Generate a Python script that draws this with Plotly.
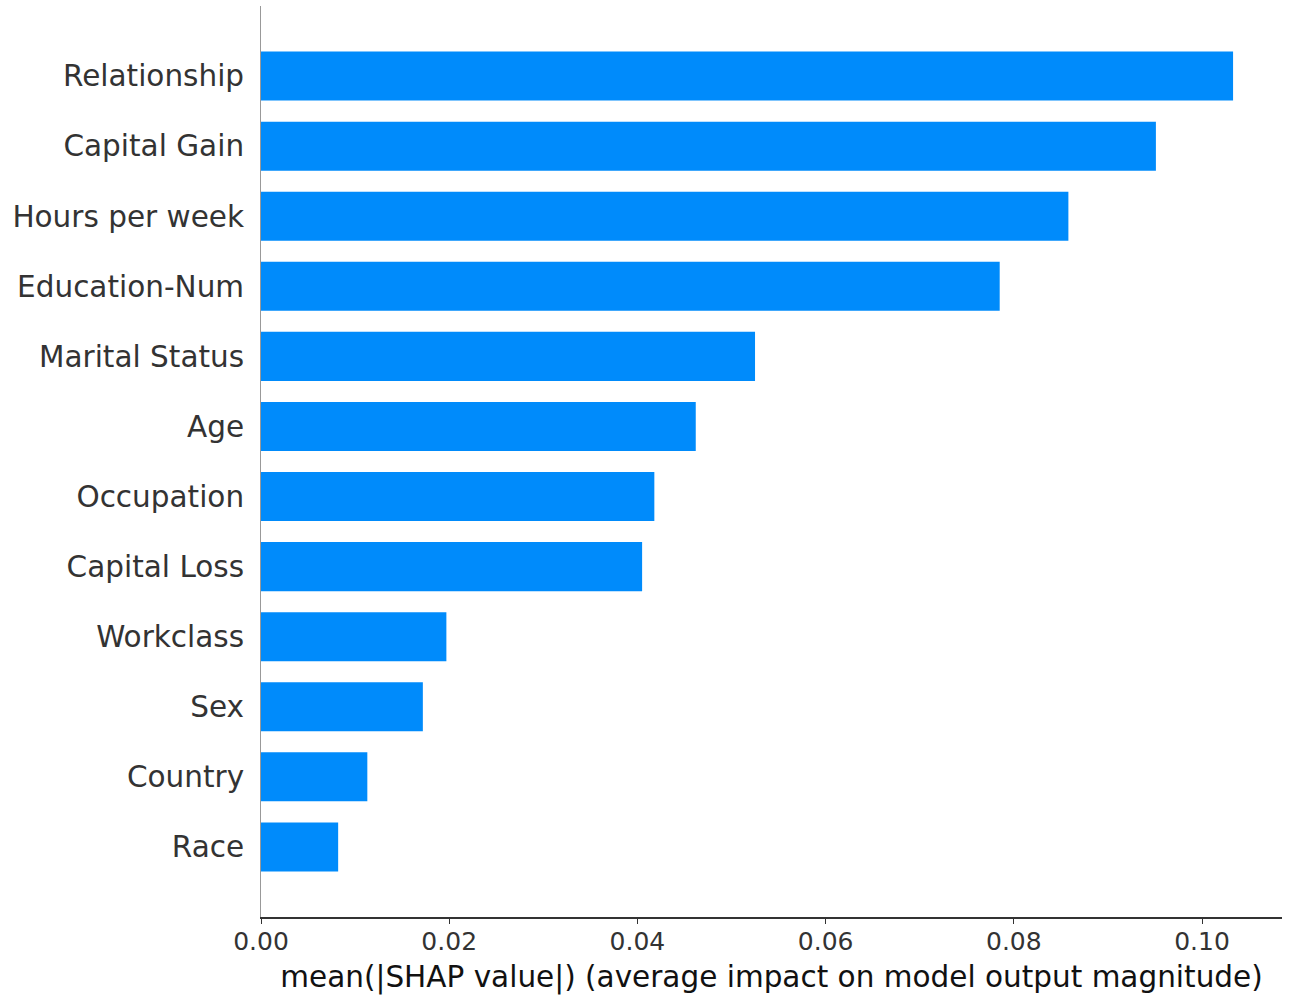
import plotly.graph_objects as go

# Feature importance: mean absolute SHAP value per feature (bottom to top)
features = ["Race", "Country", "Sex", "Workclass", "Capital Loss", "Occupation",
            "Age", "Marital Status", "Education-Num", "Hours per week",
            "Capital Gain", "Relationship"]
mean_abs_shap = [0.0082, 0.0113, 0.0172, 0.0197, 0.0405, 0.0418,
                 0.0462, 0.0525, 0.0785, 0.0858, 0.0951, 0.1033]
x_ticks = [0.00, 0.02, 0.04, 0.06, 0.08, 0.10]
x_tick_labels = ["0.00", "0.02", "0.04", "0.06", "0.08", "0.10"]
x_title = "mean(|SHAP value|) (average impact on model output magnitude)"

positions = list(range(len(features)))

fig = go.Figure(
    go.Bar(
        x=mean_abs_shap,
        y=positions,
        orientation="h",
        width=0.7,
        marker=dict(color="#008bfb", line=dict(width=0)),
        hoverinfo="skip",
    )
)

font_family = "DejaVu Sans"

fig.update_layout(
    width=1290,
    height=998,
    margin=dict(l=261, r=8, t=6, b=81),
    plot_bgcolor="white",
    paper_bgcolor="white",
    showlegend=False,
    font=dict(family=font_family, color="#333333"),
)

fig.update_xaxes(
    range=[0, 0.1085],
    tickvals=x_ticks,
    ticktext=x_tick_labels,
    ticks="outside",
    ticklen=5,
    tickwidth=1,
    tickcolor="#333333",
    ticklabelstandoff=-4,
    tickfont=dict(size=25, color="#333333"),
    showgrid=False,
    zeroline=False,
    showline=True,
    linecolor="#333333",
    linewidth=2,
    title=dict(text=x_title, font=dict(size=29.5, color="#111111"), standoff=11),
)

fig.update_yaxes(
    range=[-1, len(features)],
    tickvals=positions,
    ticktext=features,
    ticks="",
    ticklabelstandoff=10,
    tickfont=dict(size=29.5, color="#333333"),
    showgrid=False,
    zeroline=False,
    showline=True,
    linecolor="#999999",
    linewidth=1,
)

fig.write_html("out.html")
